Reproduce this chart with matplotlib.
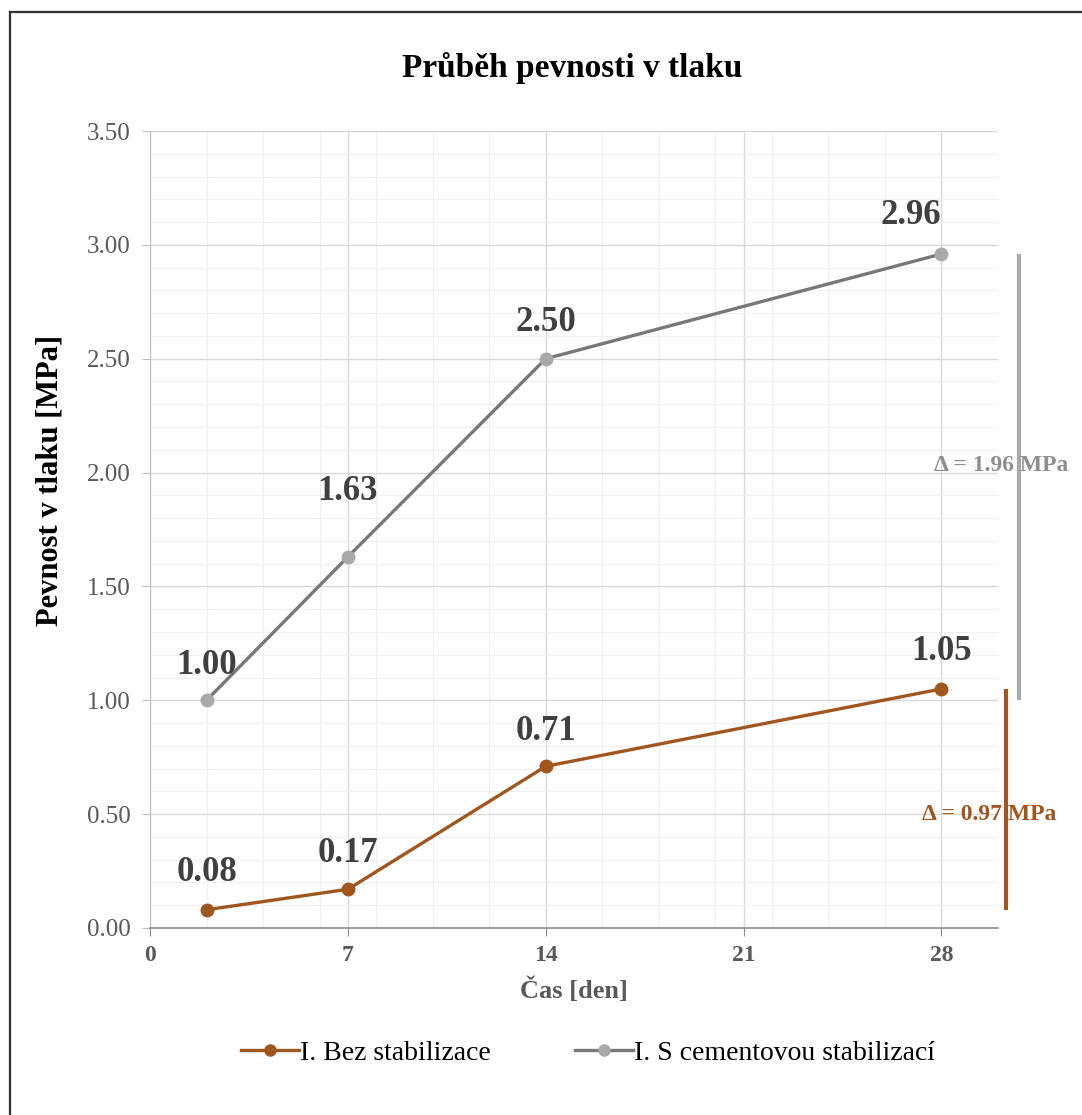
import matplotlib
matplotlib.use("Agg")
import matplotlib.pyplot as plt
from matplotlib.lines import Line2D
from matplotlib.ticker import MultipleLocator

# Days of testing and compressive strength [MPa]
days = [2, 7, 14, 28]
bez_stab = [0.08, 0.17, 0.71, 1.05]
cement_stab = [1.00, 1.63, 2.50, 2.96]
series_names = ["I. Bez stabilizace", "I. S cementovou stabilizací"]
x_ticks = [0, 7, 14, 21, 28]
y_ticks = [0.0, 0.5, 1.0, 1.5, 2.0, 2.5, 3.0, 3.5]

BROWN = "#A0561F"
GRAY_LINE = "#787878"
GRAY_MARK = "#A9A9A9"
LABEL = "#404040"
TICK = "#595959"

plt.rcParams["font.family"] = ["Liberation Serif", "DejaVu Serif"]

W, H = 1082, 1115
fig = plt.figure(figsize=(W / 100, H / 100), dpi=100)
ax = fig.add_axes([150 / W, 1 - 928 / H, 848 / W, 797 / H])

ax.set_xlim(0, 30)
ax.set_ylim(0, 3.5)
ax.set_xticks(x_ticks)
ax.set_yticks(y_ticks)
ax.set_yticklabels([f"{v:.2f}" for v in y_ticks])
ax.xaxis.set_minor_locator(MultipleLocator(2))
ax.yaxis.set_minor_locator(MultipleLocator(0.1))

ax.grid(True, which="major", color="#D9D9D9", linewidth=1.0)
ax.grid(True, which="minor", color="#F0F0F0", linewidth=0.9)
ax.set_axisbelow(True)

for side in ("top", "right"):
    ax.spines[side].set_visible(False)
ax.spines["left"].set_color("#BFBFBF")
ax.spines["bottom"].set_color("#8C8C8C")
ax.spines["bottom"].set_linewidth(1.2)

ax.tick_params(axis="both", which="minor", length=0)
ax.tick_params(axis="y", which="major", length=6, color="#BFBFBF",
               labelsize=18, labelcolor=TICK, pad=8)
ax.tick_params(axis="x", which="major", length=6, color="#8C8C8C",
               labelsize=17, labelcolor=TICK, pad=6)
for lbl in ax.get_xticklabels():
    lbl.set_fontweight("bold")

ax.plot(days, bez_stab, color=BROWN, lw=2.4, marker="o", ms=9,
        mfc=BROWN, mec=BROWN, zorder=3)
ax.plot(days, cement_stab, color=GRAY_LINE, lw=2.4, marker="o", ms=9,
        mfc=GRAY_MARK, mec=GRAY_MARK, zorder=3)

# value labels above the points (a few nudged to keep clear of the lines)
bez_offsets = [(0, 27), (0, 26), (0, 25), (0, 27)]
cem_offsets = [(0, 25), (0, 47), (0, 26), (-22, 28)]
for ys, offs in ((bez_stab, bez_offsets), (cement_stab, cem_offsets)):
    for x, y, off in zip(days, ys, offs):
        ax.annotate(f"{y:.2f}", (x, y), xytext=off, textcoords="offset points",
                    ha="center", va="center", fontsize=25, fontweight="bold",
                    color=LABEL)

# span of strength gain between first and last test
d_bez = bez_stab[-1] - bez_stab[0]
d_cem = cement_stab[-1] - cement_stab[0]
ax.plot([30.74, 30.74], [cement_stab[0], cement_stab[-1]], color=GRAY_MARK,
        lw=3, clip_on=False, solid_capstyle="butt")
ax.plot([30.28, 30.28], [bez_stab[0], bez_stab[-1]], color=BROWN,
        lw=3, clip_on=False, solid_capstyle="butt")
ax.text(30.1, 2.03, f"Δ = {d_cem:.2f} MPa", ha="center", va="center",
        fontsize=17, fontweight="bold", color="#8E8E8E", clip_on=False)
ax.text(29.7, 0.50, f"Δ = {d_bez:.2f} MPa", ha="center", va="center",
        fontsize=17, fontweight="bold", color=BROWN, clip_on=False)

ax.set_xlabel("Čas [den]", fontsize=19, fontweight="bold", color=TICK)
ax.xaxis.set_label_coords(0.5, -(990 - 928) / 797)
ax.xaxis.label.set_va("center")
ax.set_ylabel("Pevnost v tlaku [MPa]", fontsize=22, fontweight="bold",
              color="black")
ax.yaxis.set_label_coords(-(150 - 50) / 848, (928 - 480) / 797)
ax.yaxis.label.set_va("center")

fig.text(572 / W, 1 - 77 / H, "Průběh pevnosti v tlaku", ha="center",
         va="baseline", fontsize=24, fontweight="bold", color="black")

handles = [
    Line2D([], [], color=BROWN, lw=2.4, marker="o", ms=8, mfc=BROWN, mec=BROWN),
    Line2D([], [], color=GRAY_LINE, lw=2.4, marker="o", ms=8,
           mfc=GRAY_MARK, mec=GRAY_MARK),
]
fig.legend(handles, series_names, loc="center", bbox_to_anchor=(588 / W, 1 - 1053 / H),
           ncol=2, frameon=False, fontsize=20, handlelength=2.1, handletextpad=0.05,
           columnspacing=3.0)

# outer frame (left and top edges)
fig.add_artist(Line2D([10 / W, 10 / W], [0, 1 - 12 / H],
                      transform=fig.transFigure, color="#333333", lw=1.6))
fig.add_artist(Line2D([10 / W, 1], [1 - 12 / H, 1 - 12 / H],
                      transform=fig.transFigure, color="#333333", lw=1.6))

fig.savefig("out.png", dpi=100, facecolor="white")
